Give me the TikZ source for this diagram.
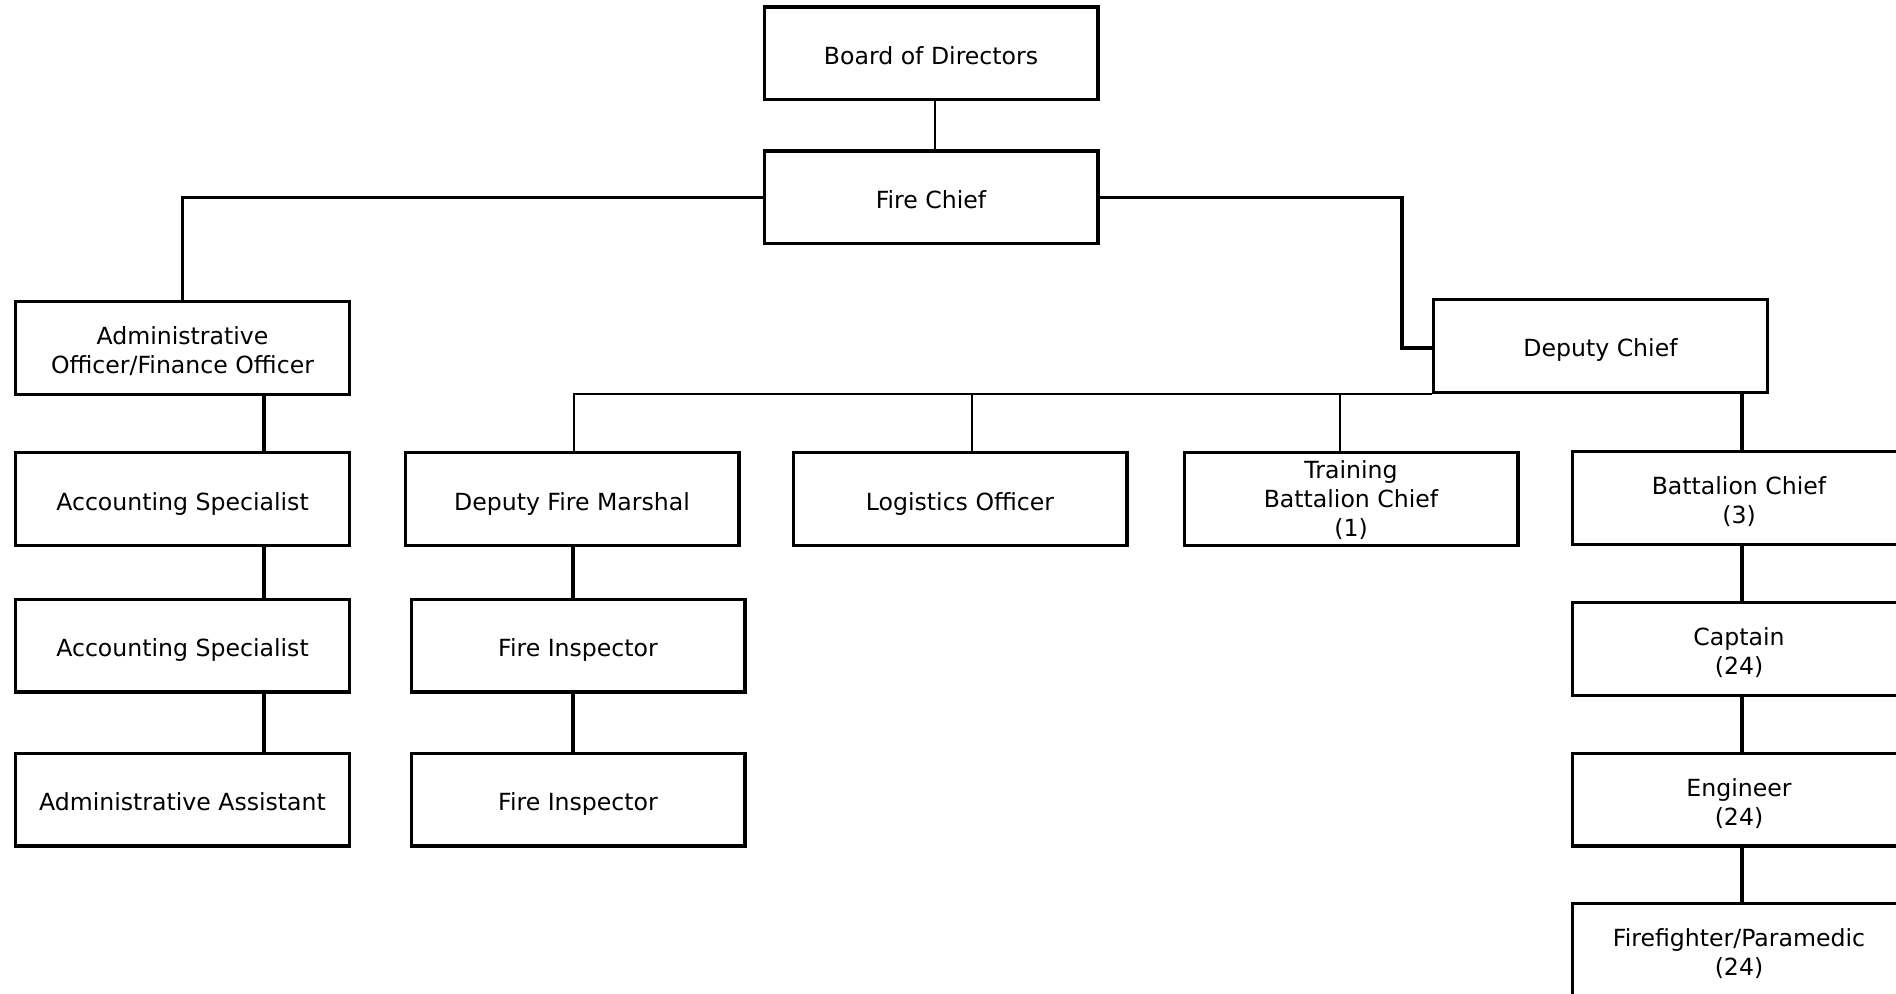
\documentclass[tikz,border=0pt]{standalone}
\usepackage{fontspec}
\setmainfont{DejaVu Sans}
\usetikzlibrary{calc}

\begin{document}
\begin{tikzpicture}[x=0.5pt, y=-0.5pt,
  post/.style={draw, line width=1.6pt, minimum width=166.9pt, minimum height=46.4pt,
    inner sep=0pt, align=center, font=\fontsize{11.8}{14.5}\selectfont,
    execute at begin node={\rule{0pt}{15.35pt}},
    execute at end node={\rule[-4.35pt]{0pt}{4.35pt}}},
  twoline/.style={execute at begin node={\rule{0pt}{29.85pt}}},
  threeline/.style={execute at begin node={\rule{0pt}{42pt}}},
  link/.style={line width=1.6pt},
  thinlink/.style={line width=1pt}]
\useasboundingbox (0,0) rectangle (1896,994);
\clip (0,0) rectangle (1896,994);
% top of the chart
\node[post] (board) at (931,53.5) {Board of Directors};
\node[post] (chief) at (931,197.5) {Fire Chief};
\node[post] (deputy) at (1600.5,346) {Deputy Chief};
% administration column
\node[post,twoline] (admin) at (182.5,348) {Administrative\\Officer/Finance Officer};
\node[post] (acct1) at (182.5,499) {Accounting Specialist};
\node[post] (acct2) at (182.5,645.5) {Accounting Specialist};
\node[post] (assist) at (182.5,799.5) {Administrative Assistant};
% under the deputy chief
\node[post] (marshal) at (572,499) {Deputy Fire Marshal};
\node[post] (insp1) at (578,645.5) {Fire Inspector};
\node[post] (insp2) at (578,799.5) {Fire Inspector};
\node[post] (logist) at (960,499) {Logistics Officer};
\node[post,threeline] (train) at (1351,499) {Training\\Battalion Chief\\(1)};
\node[post,twoline] (batt) at (1739,498) {Battalion Chief\\(3)};
\node[post,twoline] (capt) at (1739,649) {Captain\\(24)};
\node[post,twoline] (engr) at (1739,799.5) {Engineer\\(24)};
\node[post,twoline] (ffpm) at (1739,950) {Firefighter/Paramedic\\(24)};

\coordinate (turn) at (1402,197.5);
\draw[line width=1.3pt] ([xshift=2pt]board.south) -- ([xshift=2pt]chief.north);
\draw[link] (chief.west) -| (admin.north);
\draw[link] (chief.east) -- (turn) |- ([yshift=-1pt]deputy.west);
\foreach \a/\b in {admin/acct1, acct1/acct2, acct2/assist}
  \draw[link] ([xshift=40.75pt]\a.south) -- ([xshift=40.75pt]\b.north);
\draw[thinlink] (deputy.south west) -| ([xshift=1pt]marshal.north);
\draw[thinlink] (deputy.south west) -| ([xshift=6pt]logist.north);
\draw[thinlink] (deputy.south west) -| ([xshift=-5.5pt]train.north);
\draw[line width=2.2pt] ([xshift=1.5pt]batt.north) -- ([xshift=1.5pt]batt.north |- deputy.south);
\draw[link] ([xshift=0.5pt]marshal.south) -- ([xshift=-2.5pt]insp1.north);
\draw[link] ([xshift=-2.5pt]insp1.south) -- ([xshift=-2.5pt]insp2.north);
\foreach \a/\b in {batt/capt, capt/engr, engr/ffpm}
  \draw[link] ([xshift=1.5pt]\a.south) -- ([xshift=1.5pt]\b.north);
\end{tikzpicture}
\end{document}
